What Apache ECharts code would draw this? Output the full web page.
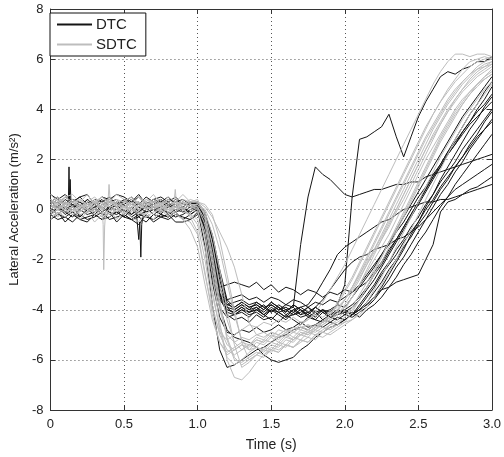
<!DOCTYPE html>
<html>
<head>
<meta charset="utf-8">
<script src="https://cdn.jsdelivr.net/npm/echarts@6/dist/echarts.min.js"></script>
<style>
html,body{margin:0;padding:0;background:#fff;}
#chart{width:504px;height:457px;}
</style>
</head>
<body>
<div id="chart"></div>
<script>
// ---- Data ----
const TIME = [0,0.05,0.1,0.15,0.2,0.25,0.3,0.35,0.4,0.45,0.5,0.55,0.6,0.65,0.7,0.75,0.8,0.85,0.9,0.95,
  1.0,1.05,1.1,1.15,1.2,1.25,1.3,1.35,1.4,1.45,1.5,1.55,1.6,1.65,1.7,1.75,1.8,1.85,1.9,1.95,
  2.0,2.05,2.1,2.15,2.2,2.25,2.3,2.35,2.4,2.45,2.5,2.55,2.6,2.65,2.7,2.75,2.8,2.85,2.9,2.95,3.0];

const X_TICKS = ['0','0.5','1.0','1.5','2.0','2.5','3.0'];
const Y_TICKS = [-8,-6,-4,-2,0,2,4,6,8];

// DTC runs (black)
const dtc01 = [0.3,0.1,0.4,0.2,0.0,0.3,0.2,0.4,0.1,0.3,0.2,0.0,0.3,0.1,0.2,0.4,0.1,0.2,0.0,0.2, 0.3,-0.4,-2.0,-3.4,-3.8,-3.9, -3.7,-3.9,-3.8,-4.0,-3.7,-3.9,-4.1,-3.8,-4.0,-4.2,-3.9,-4.1,-4.0,-3.8,-3.9, -3.5,-3.1,-2.7,-2.3,-1.8,-1.4,-0.9,-0.5,0.0,0.5,0.9,1.4,1.8,2.3,2.7,3.1,3.5,3.9,4.2,4.6];
const dtc02 = [-0.2,-0.4,-0.3,-0.1,-0.4,-0.3,-0.2,-0.4,-0.3,-0.1,-0.3,-0.4,-0.2,-0.3,-0.4,-0.2,-0.3,-0.1,-0.4,-0.2, 0.0,-0.2,-1.2,-2.8,-3.9,-4.2, -4.0,-4.1,-3.9,-4.2,-4.0,-4.1,-4.3,-4.0,-4.2,-4.1,-4.3,-4.0,-4.2,-4.1,-4.0,-3.8, -3.5,-3.1,-2.6,-2.2,-1.7,-1.2,-0.7,-0.2,0.3,0.8,1.3,1.7,2.2,2.6,3.0,3.4,3.7,4.0,4.3];
const dtc03 = [0.6,0.4,0.6,0.3,0.5,0.6,0.2,0.5,0.4,0.6,0.5,0.3,0.6,0.2,0.4,0.5,0.3,0.5,0.2,0.3, 0.2,-0.8,-2.3,-3.1,-3.0,-2.9, -3.0,-3.1,-2.9,-3.2,-3.0,-3.3,-3.1,-3.2,-3.4,-3.2,-3.3,-3.5,-3.3,-3.4,-3.2,-3.3,-3.1,-2.9, -2.5,-2.1,-1.6,-1.2,-0.7,-0.2,0.3,0.8,1.3,1.8,2.3,2.8,3.3,3.8,4.2,4.7,5.1];
const dtc04 = [0.0,-0.2,0.1,-0.1,-0.3,0.0,-0.2,0.1,-0.1,-0.2,0.0,-0.3,-0.1,0.1,-0.2,0.0,-0.1,-0.3,-0.2,0.0, 0.1,-0.3,-1.6,-3.3,-4.2,-4.4, -4.3,-4.5,-4.2,-4.4,-4.3,-4.5,-4.2,-4.4,-4.6,-4.3,-4.4,-4.5,-4.3,-4.4,-4.2,-4.3,-4.1,-3.9, -3.6,-3.2,-2.8,-2.3,-1.9,-1.4,-0.9,-0.4,0.1,0.6,1.0,1.5,1.9,2.4,2.8,3.2,3.6];
const dtc05 = [0.2,0.0,0.3,0.1,0.2,-0.1,0.1,0.3,0.0,0.2,0.1,0.3,-0.1,0.2,0.0,0.1,0.3,0.1,0.0,0.2, 0.3,-0.5,-2.2,-3.5,-3.8,-3.7, -3.6,-3.8,-3.7,-3.9,-3.8,-4.0,-3.8,-3.9, -1.4,0.5,1.7,1.4,1.2,0.9,0.6,0.5,0.6,0.7,0.8,0.8,0.9,1.0,1.0,1.1,1.1,1.3,1.4,1.5,1.6,1.7,1.8,1.9,2.0,2.1,2.2];
const dtc06 = [-0.1,0.1,-0.2,0.0,0.2,-0.1,0.0,-0.3,0.1,-0.1,0.0,-0.2,0.1,-0.1,0.0,0.2,-0.2,0.0,-0.1,0.1, 0.2,-0.6,-2.5,-3.6,-4.0,-4.1, -3.9,-4.1,-4.0,-4.2,-3.9,-4.1,-4.0,-4.2,-4.1,-3.9,-4.2,-4.0,-4.1,-3.8, -3.0,0.5,2.8,2.9,3.1,3.3,3.8,2.9,2.1,2.9,3.7,4.3,4.8,5.3,5.5,5.4,5.6,5.7,5.9,5.9,6.1];
const dtc07 = [0.1,0.3,0.0,0.2,0.1,0.4,0.2,0.0,0.3,0.1,0.2,0.4,0.1,0.3,0.2,0.0,0.2,0.1,0.3,0.1, 0.0,-1.5,-3.8,-5.6,-6.3,-6.2, -6.0,-5.8,-5.6,-5.5,-5.3,-5.1,-5.0,-4.8,-4.7,-4.8,-4.6,-4.7,-4.5,-4.6,-4.4,-4.2, -3.9,-3.5,-3.1,-2.6,-2.2,-1.8,-1.3,-0.9,-0.5,0.0,0.4,0.9,1.3,1.7,2.1,2.5,2.9,3.2,3.5];
const dtc08 = [-0.4,-0.1,-0.5,-0.2,-0.4,-0.5,-0.2,-0.4,-0.1,-0.5,-0.2,-0.4,-0.6,-0.2,-0.5,-0.3,-0.2,-0.5,-0.5,-0.4, -0.2,-0.6,-2.2,-3.9,-4.8,-5.1, -5.2,-5.3,-5.5,-5.8,-6.0,-6.1,-6.0,-5.9,-5.6,-5.4,-5.1,-4.9,-4.7,-4.6,-4.4,-4.2, -3.8,-3.4,-3.0,-2.5,-2.1,-1.6,-1.2,-0.7,-0.3,0.2,0.6,1.1,1.5,1.9,2.4,2.8,3.2,3.6,4.0];
const dtc09 = [0.3,0.5,0.2,0.4,0.3,0.1,0.4,0.3,0.5,0.2,0.4,0.3,0.2,0.5,0.3,0.4,0.2,0.3,0.4,0.2, 0.1,-1.0,-2.9,-4.3,-4.9,-5.0, -4.8,-4.9,-4.7,-4.9,-4.8,-4.6,-4.8,-4.7,-4.5,-4.7,-4.6,-4.4,-4.5,-4.3,-4.4,-4.2,-4.0, -3.7,-3.3,-2.9,-2.4,-2.0,-1.5,-1.1,-0.6,-0.2,0.3,0.8,1.2,1.7,2.1,2.6,3.0,3.5,3.9];
const dtc10 = [-0.2,0.0,-0.1,-0.3,0.0,-0.2,-0.1,0.1,-0.2,-0.1,-0.3,0.0,-0.2,-0.1,0.0,-0.2,-0.3,-0.1,0.0,-0.1, 0.1,-0.2,-1.5,-3.1,-3.9,-4.0, -3.8,-4.0,-3.9,-4.1,-3.8,-4.0,-3.9,-4.1,-3.9,-3.8, -3.4,-2.9,-2.4,-1.8,-1.5,-1.3,-1.1,-0.9,-0.7,-0.5,-0.4,-0.2,0.0,0.1,0.2,0.3,0.3,0.4,0.4,0.5,0.6,0.7,0.8,0.9,1.0];
const dtc11 = [0.2,0.4,0.1,0.3,0.5,0.2,0.3,0.1,0.4,0.2,0.3,0.5,0.2,0.1,0.3,0.2,0.4,0.3,0.1,0.3, 0.2,-0.5,-2.0,-3.5,-4.1,-4.2, -4.0,-4.2,-4.1,-4.3,-4.0,-4.2,-4.4,-4.1,-4.3,-4.2,-4.4,-4.1,-4.3,-4.2,-4.1,-4.2,-4.0, -3.8,-3.5,-3.2,-3.1,-2.9,-2.8,-2.7,-2.6,-2.0,-1.4,-0.1,0.3,0.4,0.6,0.8,0.9,1.1,1.3];
const dtc12 = [-0.4,-0.2,-0.3,-0.5,-0.2,-0.4,-0.3,-0.1,-0.4,-0.3,-0.2,-0.4,-0.3,-0.5,-0.2,-0.3,-0.4,-0.2,-0.3,-0.4, -0.1,-0.4,-1.8,-3.4,-4.0,-4.1, -3.9,-4.1,-4.0,-3.8,-4.1,-3.9,-4.2,-4.0,-3.9,-4.1,-3.9, -3.6,-3.2,-2.8,-2.4,-2.1,-1.9,-1.8,-1.6,-1.5,-1.4,-1.2,-1.1,-0.9,-0.7,-0.4,-0.1,0.2,0.5,0.8,1.0,1.2,1.4,1.6,1.8];
const dtc13 = [0.0,0.2,-0.1,0.1,0.3,0.0,0.2,-0.1,0.1,0.0,0.2,-0.2,0.0,0.3,0.1,-0.1,0.1,0.2,-0.1,0.1, 0.2,-0.3,-1.9,-3.4,-3.6,-3.5, -3.4,-3.6,-3.5,-3.7,-3.5,-3.6,-3.8,-3.6,-3.7,-3.9,-3.7,-3.8,-3.6,-3.7,-3.5, -3.3,-3.0,-2.6,-2.2,-1.8,-1.3,-0.8,-0.3,0.2,0.7,1.2,1.7,2.2,2.7,3.2,3.7,4.1,4.5,4.9,5.3];
const dtc14 = [0.3,0.1,0.2,0.4,0.1,0.3,0.0,0.2,0.3,0.1,0.4,0.2,0.3,0.0,0.2,0.3,0.1,0.4,0.2,0.2, 0.3,-0.1,-1.2,-2.6,-3.7,-4.0, -3.8,-4.0,-3.7,-3.9,-4.1,-3.8,-4.0,-3.9,-4.2,-3.9,-4.1,-4.0,-4.3,-4.1,-4.0,-4.2,-4.0,-3.8,-3.5, -3.1,-2.6,-2.1,-1.6,-1.0,-0.5,0.1,0.6,1.2,1.7,2.2,2.7,3.2,3.6,4.1,4.5];
const dtc15 = [-0.2,0.1,-0.1,0.2,-0.3,0.0,0.1,-0.2,0.0,0.2,-0.1,0.1,-0.3,0.0,0.1,-0.2,0.2,-0.1,0.1,-0.2, 0.0,-0.8,-2.7,-3.9,-4.3,-4.2, -4.1,-4.3,-4.0,-4.2,-4.4,-4.1,-4.3,-4.2,-4.0,-4.3,-4.1,-4.4,-4.2,-4.0,-4.1,-3.9,-3.6, -3.2,-2.8,-2.3,-1.8,-1.3,-0.8,-0.3,0.2,0.7,1.2,1.7,2.2,2.6,3.1,3.5,4.0,4.4,4.9];
const dtc16 = [0.4,0.2,0.5,0.3,0.1,0.4,0.2,0.5,0.3,0.4,0.1,0.3,0.5,0.2,0.4,0.3,0.5,0.2,0.3,0.1, 0.2,-0.2,-1.0,-2.4,-3.6,-3.9, -3.7,-3.9,-3.8,-4.0,-3.7,-3.9,-4.1,-3.8,-4.0,-4.2,-3.9,-4.1,-4.3,-4.0,-4.2,-4.1,-4.3,-4.0,-3.8,-3.5, -3.1,-2.7,-2.2,-1.8,-1.3,-0.9,-0.4,0.1,0.5,1.0,1.4,1.8,2.2,2.6,3.0];
// short DTC spikes (own time stamps)
const dtcSpikeA_t = [0.115,0.122,0.126,0.130,0.134,0.140];
const dtcSpikeA_y = [0.2,0.4,1.7,0.3,1.2,0.1];
const dtcSpikeB_t = [0.585,0.600,0.607,0.614,0.620,0.630];
const dtcSpikeB_y = [-0.2,-1.2,-0.5,-1.9,-0.6,-0.2];

// SDTC runs (grey)
const sdtc01 = [0.2,0.0,0.3,0.1,-0.1,0.2,0.0,0.3,0.1,0.2,0.0,0.1,0.3,0.0,0.2,0.1,-0.1,0.2,0.0,-0.2, -0.6,-2.0,-3.8,-5.0,-5.6,-5.8, -5.6,-5.4,-5.2,-5.3,-5.0,-5.2,-4.9,-5.1,-4.8,-4.9,-4.7,-4.6,-4.4, -4.1,-3.6,-3.1,-2.5,-1.9,-1.3,-0.7,-0.1,0.5,1.1,1.7,2.3,2.9,3.4,3.9,4.4,4.8,5.1,5.4,5.6,5.7,5.8];
const sdtc02 = [0.4,0.2,0.5,0.3,0.4,0.1,0.3,0.5,0.2,0.4,0.3,0.5,0.2,0.4,0.3,0.1,0.4,0.2,0.3,0.1, 0.0,-1.2,-3.2,-4.8,-5.9,-6.2, -6.0,-5.7,-5.5,-5.6,-5.3,-5.4,-5.1,-5.2,-4.9,-5.0,-4.7,-4.5, -4.2,-3.8,-3.3,-2.8,-2.2,-1.6,-1.0,-0.4,0.2,0.8,1.4,2.0,2.6,3.2,3.8,4.3,4.8,5.2,5.6,5.9,6.0,6.1,6.0];
const sdtc03 = [0.0,-0.2,0.1,-0.1,0.2,0.0,-0.1,0.1,-0.2,0.0,0.1,-0.1,0.2,0.0,-0.2,0.1,0.0,-0.1,0.1,-0.3, -0.9,-2.5,-4.2,-5.3,-5.8,-5.6, -5.4,-5.5,-5.2,-5.3,-5.0,-5.1,-4.9,-4.8,-4.6,-4.4,-4.1, -3.7,-3.2,-2.7,-2.2,-1.6,-1.0,-0.4,0.2,0.8,1.4,2.0,2.6,3.2,3.8,4.4,5.0,5.5,5.9,6.2,6.2,6.1,6.2,6.2,6.1];
const sdtc04 = [0.3,0.1,0.2,0.4,0.2,0.0,0.3,0.1,0.4,0.2,0.1,0.3,0.0,0.2,0.4,0.2,0.3,0.1,0.2,0.3, 0.3,0.1,-0.3,-0.9,-1.5,-2.3,-3.4,-4.5,-5.0, -5.1,-4.9,-5.0,-4.8,-4.9,-4.7,-4.8,-4.6,-4.5,-4.3, -4.0,-3.6,-3.1,-2.6,-2.1,-1.6,-1.1,-0.5,0.0,0.6,1.2,1.8,2.4,2.9,3.4,3.9,4.3,4.7,5.0,5.3,5.5,5.7];
const sdtc05 = [-0.1,0.1,0.0,-0.2,0.1,0.2,-0.1,0.0,0.2,-0.1,0.1,0.0,-0.2,0.1,0.0,0.2,-0.1,0.1,0.0,0.2, 0.2,0.0,-0.6,-1.6,-2.9,-4.2,-5.2,-5.6, -5.5,-5.7,-5.4,-5.5,-5.2,-5.3,-5.0,-5.1,-4.8,-4.9,-4.6,-4.4, -4.0,-3.5,-3.0,-2.4,-1.8,-1.2,-0.6,0.0,0.6,1.2,1.8,2.4,3.0,3.5,4.0,4.4,4.8,5.1,5.4,5.6,5.8];
const sdtc06 = [0.2,0.4,0.1,0.3,0.0,0.2,0.4,0.1,0.3,0.2,0.0,0.3,0.1,0.4,0.2,0.0,0.2,0.3,0.1,0.0, -0.1,-0.9,-2.6,-4.5,-6.0,-6.7,-6.8,-6.5, -6.1,-5.8,-5.6,-5.7,-5.4,-5.5,-5.2,-5.3,-5.0,-4.9,-4.7,-4.6, -4.3,-3.9,-3.4,-2.9,-2.4,-1.9,-1.3,-0.8,-0.2,0.4,1.0,1.6,2.2,2.8,3.3,3.8,4.2,4.6,4.9,5.2,5.4];
const sdtc07 = [-0.4,-0.1,-0.3,0.0,-0.4,-0.1,-0.5,-0.2,0.0,-0.4,-0.1,-0.3,-0.5,-0.1,-0.4,0.0,-0.3,-0.1,-0.4,-0.5, -1.0,-2.6,-4.0,-4.9,-5.2,-5.0, -4.8,-4.6,-4.7,-4.5,-4.6,-4.4,-4.5,-4.3,-4.5,-4.4,-4.2,-4.3,-4.1,-3.9, -3.6,-3.2,-2.7,-2.2,-1.7,-1.2,-0.7,-0.1,0.4,1.0,1.6,2.2,2.8,3.4,3.9,4.4,4.8,5.2,5.5,5.7,5.9];
const sdtc08 = [0.6,0.3,0.5,0.6,0.3,0.6,0.2,0.5,0.3,0.6,0.4,0.2,0.5,0.3,0.6,0.2,0.5,0.3,0.6,0.3, 0.4,-0.3,-1.8,-3.6,-5.2,-6.0, -6.1,-5.9,-5.7,-5.8,-5.5,-5.6,-5.4,-5.5,-5.2,-5.3,-5.0,-5.1,-4.9,-4.7,-4.5, -4.1,-3.6,-3.1,-2.5,-1.9,-1.3,-0.7,-0.1,0.5,1.1,1.7,2.3,2.9,3.4,3.9,4.3,4.7,5.0,5.3,5.5];
const sdtc09 = [0.0,0.2,0.1,-0.1,0.1,0.3,0.0,0.2,0.1,-0.1,0.2,0.0,0.1,0.3,0.0,0.2,0.1,0.0,0.2,0.1, 0.1,-0.6,-2.2,-4.0,-5.0,-5.3, -5.1,-5.2,-5.0,-4.9,-5.1,-4.8,-4.9,-4.7,-4.8,-4.6,-4.7,-4.5,-4.3, -4.0,-3.6,-3.1,-2.6,-2.0,-1.4,-0.8,-0.2,0.4,1.0,1.6,2.2,2.8,3.3,3.8,4.3,4.7,5.1,5.4,5.7,5.9,6.0];
const sdtc10 = [-0.2,0.0,-0.1,0.1,-0.2,-0.1,0.0,-0.3,-0.1,0.1,-0.2,0.0,-0.1,-0.2,0.1,-0.1,0.0,-0.2,-0.4,-0.8, -1.5,-3.0,-4.4,-5.3,-5.7,-5.5, -5.3,-5.4,-5.1,-5.2,-4.9,-5.0,-4.8,-4.9,-4.7,-4.6,-4.8,-4.5,-4.4,-4.2, -3.9,-3.5,-3.0,-2.5,-2.0,-1.5,-1.0,-0.4,0.2,0.8,1.4,2.0,2.5,3.0,3.5,4.0,4.4,4.7,5.0,5.2,5.4];
const sdtc11 = [0.1,0.3,0.2,0.0,0.2,0.1,0.3,0.0,0.2,0.4,0.1,0.2,0.0,0.3,0.1,0.2,0.0,0.2,0.3,0.1, 0.2,-0.2,-1.4,-3.0,-4.4,-5.3, -5.6,-5.4,-5.5,-5.2,-5.3,-5.0,-5.1,-4.9,-5.0,-4.8,-4.9,-4.7,-4.8,-4.6,-4.5,-4.4,-4.2, -3.9,-3.5,-3.0,-2.5,-2.0,-1.4,-0.8,-0.2,0.4,1.0,1.6,2.2,2.8,3.3,3.8,4.2,4.6,5.0];
const sdtc12 = [0.3,0.5,0.2,0.4,0.1,0.3,0.5,0.2,0.4,0.1,0.3,0.2,0.5,0.2,0.3,0.4,0.1,0.3,0.2,0.4, 0.3,-0.1,-1.0,-2.4,-4.0,-5.4, -6.3,-6.1,-5.8,-5.6,-5.7,-5.4,-5.5,-5.2,-5.0,-4.9,-4.7,-4.5, -4.2,-3.7,-3.2,-2.7,-2.1,-1.5,-0.9,-0.3,0.3,0.9,1.5,2.1,2.7,3.3,3.8,4.3,4.7,5.1,5.4,5.7,5.9,6.0,6.1];
const sdtc13 = [-0.1,-0.3,0.0,-0.2,-0.1,0.1,-0.2,-0.1,-0.3,0.0,-0.2,0.1,-0.1,-0.3,-0.1,0.0,-0.2,0.1,-0.1,-0.2, -0.4,-1.6,-3.4,-4.7,-5.4,-5.6, -5.4,-5.6,-5.3,-5.4,-5.1,-5.3,-5.0,-5.2,-4.9,-5.0,-4.8,-4.6,-4.4,-4.2, -3.8,-3.3,-2.8,-2.2,-1.6,-1.0,-0.4,0.2,0.8,1.4,2.0,2.6,3.2,3.7,4.2,4.6,5.0,5.3,5.6,5.8,5.9];
const sdtc14 = [0.2,0.0,0.2,0.3,0.1,-0.1,0.2,0.0,0.3,0.1,-0.1,0.2,0.3,0.0,0.1,0.3,0.0,0.1,0.3,0.2, 0.1,-0.4,-2.0,-3.8,-5.1,-5.9, -6.2,-6.0,-5.8,-5.9,-5.6,-5.7,-5.4,-5.5,-5.3,-5.1,-5.2,-4.9,-5.0,-4.8,-4.6,-4.4, -4.1,-3.7,-3.2,-2.7,-2.1,-1.5,-0.9,-0.3,0.3,0.9,1.5,2.1,2.6,3.1,3.6,4.0,4.4,4.8,5.1];
const sdtc15 = [0.4,0.2,0.3,0.1,0.4,0.2,0.3,0.5,0.2,0.3,0.1,0.4,0.3,0.1,0.3,0.2,0.4,0.2,0.4,0.3, 0.3,0.2,-0.2,-1.2,-2.6,-4.0,-5.3,-6.0, -5.8,-5.5,-5.6,-5.3,-5.4,-5.1,-5.2,-4.9,-5.0,-4.8,-4.6,-4.5,-4.3, -4.0,-3.6,-3.1,-2.6,-2.1,-1.5,-0.9,-0.3,0.3,0.9,1.5,2.1,2.7,3.2,3.7,4.2,4.6,5.0,5.3,5.6];
// short SDTC spikes
const sdtcSpikeA_t = [0.350,0.358,0.362,0.368,0.376];
const sdtcSpikeA_y = [0.1,-0.6,-2.4,-0.7,0.0];
const sdtcSpikeB_t = [0.390,0.398,0.404,0.412];
const sdtcSpikeB_y = [0.2,1.0,0.5,0.2];
const sdtcSpikeC_t = [0.840,0.848,0.854,0.862];
const sdtcSpikeC_y = [0.3,0.8,0.4,0.3];

const DTC_RUNS = [dtc01,dtc02,dtc03,dtc04,dtc05,dtc06,dtc07,dtc08,dtc09,dtc10,dtc11,dtc12,dtc13,dtc14,dtc15,dtc16];
const SDTC_RUNS = [sdtc01,sdtc02,sdtc03,sdtc04,sdtc05,sdtc06,sdtc07,sdtc08,sdtc09,sdtc10,sdtc11,sdtc12,sdtc13,sdtc14,sdtc15];

// sanity check
const bad = [];
DTC_RUNS.forEach((a,i)=>{ if(a.length!==TIME.length) bad.push('dtc'+(i+1)+':'+a.length); });
SDTC_RUNS.forEach((a,i)=>{ if(a.length!==TIME.length) bad.push('sdtc'+(i+1)+':'+a.length); });
if (bad.length) console.error('Length mismatch: ' + bad.join(', '));

const BLACK = '#141414';
const GREY = '#bdbdbd';
const FONT = 'Liberation Sans, Arial, sans-serif';

function mkSeries(name, color, xs, ys, width) {
  const n = Math.min(xs.length, ys.length);
  const data = [];
  for (let i = 0; i < n; i++) data.push([xs[i], ys[i]]);
  return {
    name: name, type: 'line', data: data, symbol: 'none', showSymbol: false,
    xAxisIndex: 0, yAxisIndex: 0,
    itemStyle: {color: color},
    lineStyle: {color: color, width: width || 1},
    emphasis: {disabled: true}, silent: true, animation: false
  };
}

const series = [];
DTC_RUNS.forEach(a => series.push(mkSeries('DTC', BLACK, TIME, a, 1)));
series.push(mkSeries('DTC', BLACK, dtcSpikeA_t, dtcSpikeA_y, 1));
series.push(mkSeries('DTC', BLACK, dtcSpikeB_t, dtcSpikeB_y, 1));
SDTC_RUNS.forEach(a => series.push(mkSeries('SDTC', GREY, TIME, a, 1)));
series.push(mkSeries('SDTC', GREY, sdtcSpikeA_t, sdtcSpikeA_y, 1));
series.push(mkSeries('SDTC', GREY, sdtcSpikeB_t, sdtcSpikeB_y, 1));
series.push(mkSeries('SDTC', GREY, sdtcSpikeC_t, sdtcSpikeC_y, 1));

const axisLine = {show: true, onZero: false, lineStyle: {color: '#333', width: 1}};
const tick = {show: true, inside: true, length: 5, lineStyle: {color: '#333'}};
const split = {show: true, lineStyle: {color: '#555', width: 1, type: [1, 3]}};

const chart = echarts.init(document.getElementById('chart'), null, {renderer: 'canvas'});
chart.setOption({
  animation: false,
  backgroundColor: '#fff',
  textStyle: {fontFamily: FONT},
  grid: {left: 47, right: 9, top: 9, bottom: 40, containLabel: false},
  legend: {
    data: ['DTC', 'SDTC'],
    left: 50, top: 13, orient: 'vertical',
    icon: 'rect', itemWidth: 35, itemHeight: 2, itemGap: 5,
    padding: [4, 9, 4, 7],
    backgroundColor: '#fff', borderColor: '#111', borderWidth: 1,
    textStyle: {fontSize: 15, color: '#222', fontFamily: FONT, padding: [0, 0, 0, -1]},
    selectedMode: false
  },
  xAxis: [{
    type: 'value', min: 0, max: 3, interval: 0.5, position: 'bottom',
    name: 'Time (s)', nameLocation: 'middle', nameGap: 28,
    nameTextStyle: {fontSize: 14, color: '#222', fontFamily: FONT},
    axisLine: axisLine, axisTick: tick, splitLine: split,
    axisLabel: {fontSize: 13, color: '#222', margin: 8, fontFamily: FONT,
      formatter: v => X_TICKS[Math.round(v / 0.5)]}
  }, {
    type: 'value', min: 0, max: 3, interval: 0.5, position: 'top',
    axisLine: axisLine, axisTick: tick, splitLine: {show: false}, axisLabel: {show: false}
  }],
  yAxis: [{
    type: 'value', min: -8, max: 8, interval: 2, position: 'left',
    name: 'Lateral Acceleration (m/s²)', nameLocation: 'middle', nameGap: 29,
    nameTextStyle: {fontSize: 13, color: '#222', fontFamily: FONT},
    axisLine: axisLine, axisTick: tick, splitLine: split,
    axisLabel: {fontSize: 13, color: '#222', margin: 7, fontFamily: FONT,
      formatter: v => String(Y_TICKS[Math.round((v + 8) / 2)])}
  }, {
    type: 'value', min: -8, max: 8, interval: 2, position: 'right',
    axisLine: axisLine, axisTick: tick, splitLine: {show: false}, axisLabel: {show: false}
  }],
  series: series
});
</script>
</body>
</html>
